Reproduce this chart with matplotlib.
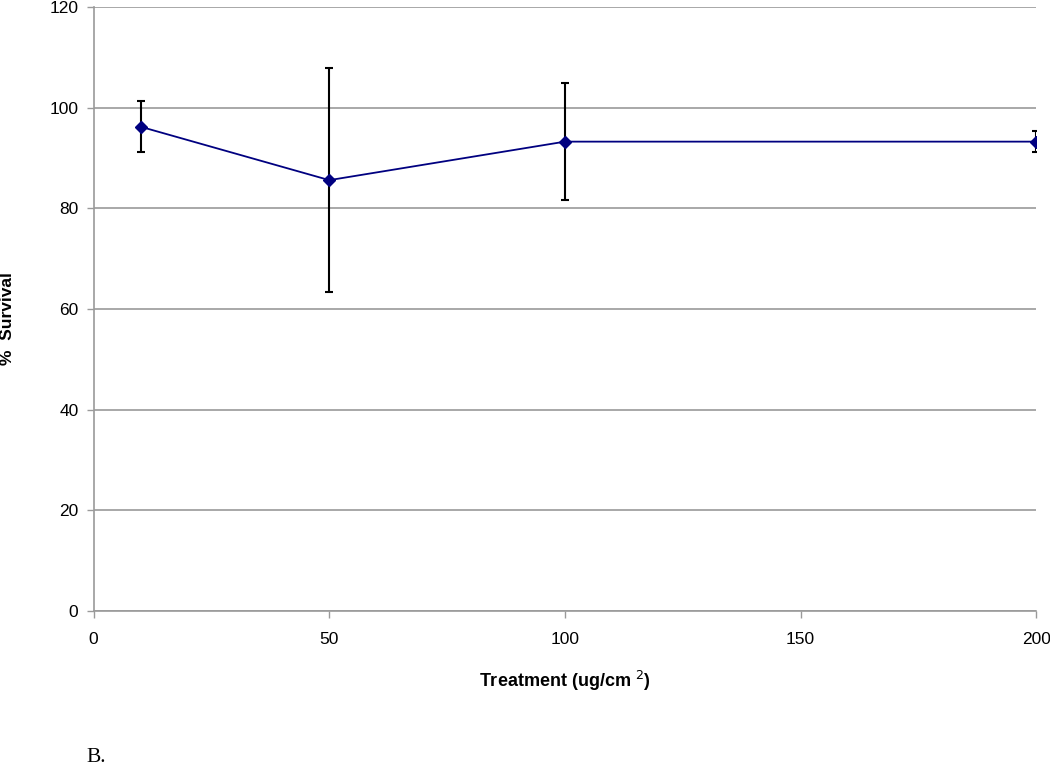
import matplotlib
matplotlib.use("Agg")
import matplotlib.pyplot as plt

doses = [10, 50, 100, 200]
survival = [96.2, 85.6, 93.25, 93.25]
errors = [5.05, 22.3, 11.6, 2.05]
xticks = [0, 50, 100, 150, 200]
yticks = [0, 20, 40, 60, 80, 100, 120]

plt.rcParams['font.family'] = ['Liberation Sans', 'DejaVu Sans']

fig = plt.figure(figsize=(10.5, 7.68), dpi=100)
ax = fig.add_axes([0.0892, 0.2044, 0.9869 - 0.0892, 0.9909 - 0.2044])

ax.errorbar(doses, survival, yerr=errors, fmt='none', ecolor='black',
            elinewidth=1.5, capsize=3, capthick=1.5, zorder=3)
ax.plot(doses, survival, color='#000080', lw=1.3, marker='D', ms=6,
        markerfacecolor='#000080', markeredgecolor='#000080', zorder=4)

ax.set_xlim(0, 200)
ax.set_ylim(0, 120)
ax.set_xticks(xticks)
ax.set_yticks(yticks)
ax.yaxis.grid(True, color='#9a9a9a', lw=1.2)
ax.set_axisbelow(True)
for s in ['top', 'right']:
    ax.spines[s].set_visible(False)
for s in ['left', 'bottom']:
    ax.spines[s].set_color('#9a9a9a')
    ax.spines[s].set_linewidth(1.2)
ax.tick_params(axis='both', colors='#9a9a9a', labelcolor='black', labelsize=12.5,
               length=5, width=1.0, direction='out')
ax.tick_params(axis='x', pad=10)
ax.tick_params(axis='y', pad=6)

ax.set_xlabel('Treatment (ug/cm $^{2}$)', fontsize=13, fontweight='bold', labelpad=16)

fig.text(7.5 / 1050, 1 - 319 / 768, '%  Survival', fontsize=12.5, fontweight='bold',
         rotation=90, ha='center', va='center')

fig.text(86 / 1050, 1 - 762 / 768, 'B.', family='Liberation Serif', fontsize=15.5,
         ha='left', va='baseline')

fig.savefig('out.png', dpi=100)
